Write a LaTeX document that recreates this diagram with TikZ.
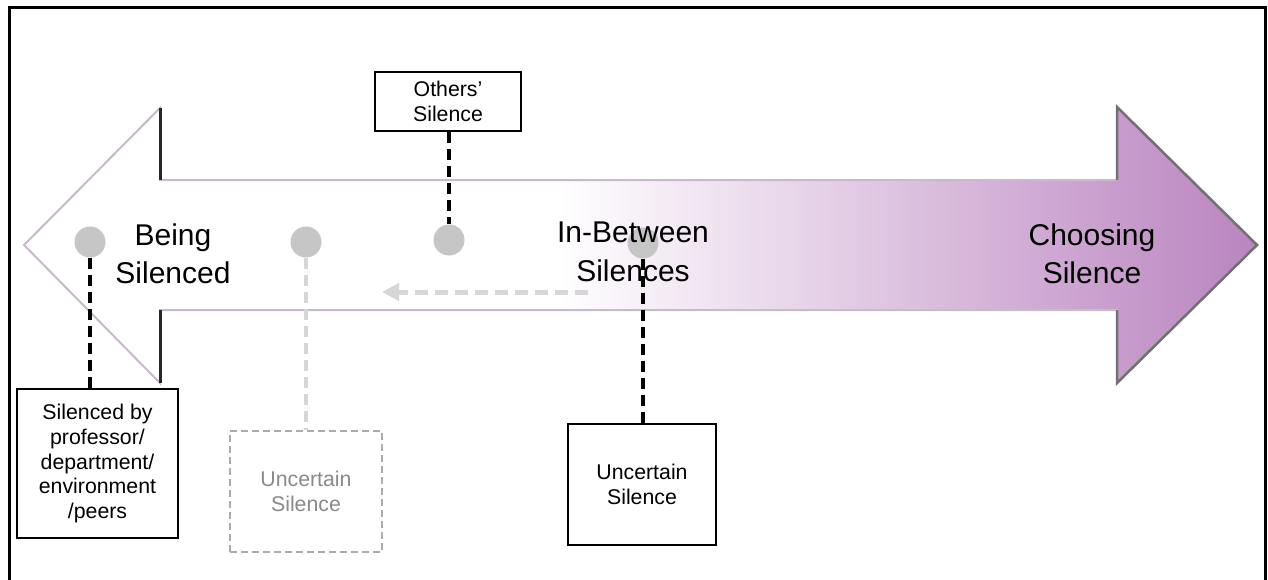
\documentclass[tikz,border=0pt]{standalone}
\usepackage{fontspec}
\setmainfont{Liberation Sans}
\usetikzlibrary{arrows.meta}

\definecolor{dotgray}{HTML}{C6C6C6}
\definecolor{fadegray}{HTML}{D6D6D6}
\definecolor{fadeborder}{HTML}{ABABAB}
\definecolor{fadetext}{HTML}{8A8A8A}
\definecolor{rimlight}{HTML}{C7BACB}
\definecolor{rimdark}{HTML}{727072}
\definecolor{plumstart}{HTML}{FFFFFF}
\definecolor{plumend}{HTML}{BA84C0}

\tikzset{
  bigtext/.style={align=center, font=\fontsize{30}{38.5}\selectfont, inner sep=0pt},
  labelbox/.style={draw=black, line width=2.2pt, fill=white, align=center,
    font=\fontsize{21.3}{24.8}\selectfont, inner sep=0pt},
  fadebox/.style={draw=fadeborder, line width=2pt, dashed, dash pattern=on 7pt off 4pt,
    fill=white, align=center, text=fadetext, font=\fontsize{21.3}{24.8}\selectfont, inner sep=0pt},
  marker/.style={circle, fill=dotgray, minimum size=31pt, inner sep=0pt},
  tether/.style={line width=4pt, dash pattern=on 11pt off 6pt},
  fadetether/.style={tether, draw=fadegray},
}

\begin{document}
\begin{tikzpicture}[x=1pt, y=-1pt]
\useasboundingbox (0,0) rectangle (1268,579);
\fill[white] (0,0) rectangle (1268,579);

% frame, open at the foot
\draw[line width=3pt] (9,582) -- (9,7) -- (1265,7) -- (1265,582);

% the double-headed arrow
\def\arrowpath{(24,245) -- (160,108) -- (160,180) -- (1117,180) -- (1117,107)
  -- (1257,245) -- (1117,383) -- (1117,310) -- (160,310) -- (160,383) -- cycle}
\begin{scope}
  \clip \arrowpath;
  \fill[white] (0,90) rectangle (1268,400);
  \shade[left color=plumstart, right color=plumend] (555,90) rectangle (1258,400);
\end{scope}
\draw[rimlight, line width=2pt, line join=miter] \arrowpath;
\draw[black!85, line width=3pt] (160,108) -- (160,180);
\draw[black!85, line width=3pt] (160,310) -- (160,383);
\draw[rimdark, line width=2.5pt, line join=miter]
  (1117,180) -- (1117,107) -- (1257,245) -- (1117,383) -- (1117,310);

% markers
\node[marker] (d1) at (90,242) {};
\node[marker] (d2) at (306,242) {};
\node[marker] (d3) at (449,240) {};
\node[marker] (d4) at (643,243) {};

% headings along the arrow
\node[bigtext] (being) at (173,254) {Being\\Silenced};
\node[bigtext] (between) at (633,252) {In-Between\\Silences};
\node[bigtext] (choosing) at (1092,254) {Choosing\\Silence};

% label boxes
\node[labelbox, minimum width=146pt, minimum height=59pt] (others) at (448,101.5) {Others'\\Silence};
\node[labelbox, minimum width=161pt, minimum height=149pt] (imposed) at (97.5,463.5)
  {Silenced by\\professor/\\department/\\environment\\/peers};
\node[fadebox, minimum width=152pt, minimum height=121pt] (faded) at (306,491.5) {Uncertain\\Silence};
\node[labelbox, minimum width=148pt, minimum height=121pt] (uncertain) at (642,484.5) {Uncertain\\Silence};

% tethers from markers to boxes
\draw[tether] (others.south -| d3) -- (d3.north);
\draw[tether] (d1.south) -- (d1.south |- imposed.north);
\draw[fadetether] (d2.south) -- (d2.south |- faded.north);
\draw[tether] (d4.south) -- (d4.south |- uncertain.north);

% drift back toward silencing
\coordinate (driftfrom) at (588,292);
\coordinate (driftto) at (382,292);
\draw[draw=fadegray, line width=5pt, dash pattern=on 13pt off 7pt,
  -{Triangle[length=17pt, width=17pt, fill=fadegray]}] (driftfrom) -- (driftto);
\end{tikzpicture}
\end{document}
